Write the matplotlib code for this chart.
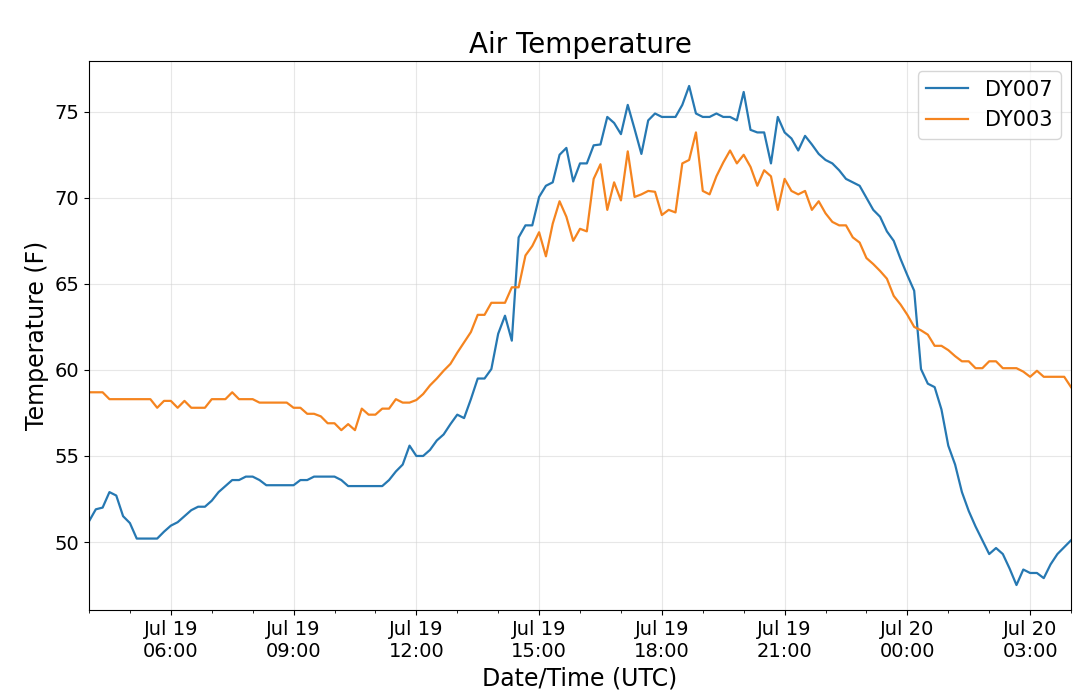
import matplotlib
matplotlib.use("Agg")
import matplotlib.pyplot as plt
import matplotlib.dates as mdates
import numpy as np
import pandas as pd

# 10-minute readings, Jul 19 04:00 UTC -> Jul 20 04:00 UTC
times = pd.date_range("2019-07-19 04:00", periods=145, freq="10min")

dy007 = [
    51.2, 51.9, 52.0, 52.9, 52.7, 51.5, 51.1, 50.2, 50.2, 50.2,
    50.2, 50.6, 50.95, 51.15, 51.5, 51.85, 52.05, 52.05, 52.4, 52.9,
    53.25, 53.6, 53.6, 53.8, 53.8, 53.6, 53.3, 53.3, 53.3, 53.3,
    53.3, 53.6, 53.6, 53.8, 53.8, 53.8, 53.8, 53.6, 53.25, 53.25,
    53.25, 53.25, 53.25, 53.25, 53.6, 54.1, 54.5, 55.6, 55.0, 55.0,
    55.35, 55.9, 56.25, 56.85, 57.4, 57.2, 58.3, 59.5, 59.5, 60.05,
    62.1, 63.15, 61.7, 67.7, 68.4, 68.4, 70.05, 70.7, 70.9, 72.5,
    72.9, 70.95, 72.0, 72.0, 73.05, 73.1, 74.7, 74.35, 73.7, 75.4,
    74.0, 72.55, 74.5, 74.9, 74.7, 74.7, 74.7, 75.4, 76.5, 74.9,
    74.7, 74.7, 74.9, 74.7, 74.7, 74.5, 76.15, 73.95, 73.8, 73.8,
    72.0, 74.7, 73.8, 73.45, 72.75, 73.6, 73.1, 72.55, 72.2, 72.0,
    71.6, 71.1, 70.9, 70.7, 70.0, 69.3, 68.9, 68.05, 67.5, 66.45,
    65.5, 64.6, 60.05, 59.2, 59.0, 57.7, 55.6, 54.5, 52.9, 51.8,
    50.9, 50.1, 49.3, 49.65, 49.3, 48.45, 47.5, 48.4, 48.2, 48.2,
    47.9, 48.7, 49.3, 49.7, 50.1,
]

dy003 = [
    58.7, 58.7, 58.7, 58.3, 58.3, 58.3, 58.3, 58.3, 58.3, 58.3,
    57.8, 58.2, 58.2, 57.8, 58.2, 57.8, 57.8, 57.8, 58.3, 58.3,
    58.3, 58.7, 58.3, 58.3, 58.3, 58.1, 58.1, 58.1, 58.1, 58.1,
    57.8, 57.8, 57.45, 57.45, 57.3, 56.9, 56.9, 56.5, 56.85, 56.5,
    57.75, 57.4, 57.4, 57.75, 57.75, 58.3, 58.1, 58.1, 58.25, 58.6,
    59.1, 59.5, 59.95, 60.35, 61.0, 61.6, 62.2, 63.2, 63.2, 63.9,
    63.9, 63.9, 64.8, 64.8, 66.65, 67.2, 68.0, 66.6, 68.5, 69.8,
    68.9, 67.5, 68.2, 68.05, 71.1, 71.95, 69.3, 70.9, 69.85, 72.7,
    70.05, 70.2, 70.4, 70.35, 69.0, 69.3, 69.15, 72.0, 72.2, 73.8,
    70.4, 70.2, 71.25, 72.05, 72.75, 72.0, 72.5, 71.8, 70.7, 71.6,
    71.25, 69.3, 71.1, 70.4, 70.2, 70.4, 69.3, 69.8, 69.1, 68.6,
    68.4, 68.4, 67.7, 67.4, 66.5, 66.15, 65.75, 65.3, 64.3, 63.8,
    63.2, 62.5, 62.3, 62.05, 61.4, 61.4, 61.15, 60.8, 60.5, 60.5,
    60.1, 60.1, 60.5, 60.5, 60.1, 60.1, 60.1, 59.9, 59.6, 59.95,
    59.6, 59.6, 59.6, 59.6, 59.0,
]

fig, ax = plt.subplots(figsize=(10.8, 6.98), dpi=100)
fig.subplots_adjust(left=0.0824, right=0.9917, top=0.9126, bottom=0.1261)

ax.plot(times, dy007, label="DY007", color="#2678b2", linewidth=1.6)
ax.plot(times, dy003, label="DY003", color="#f5841f", linewidth=1.6)

ax.set_xlim(times[0], times[-1])
ax.xaxis.set_major_locator(mdates.HourLocator(byhour=range(0, 24, 3)))
ax.xaxis.set_minor_locator(mdates.HourLocator(interval=1))
ax.xaxis.set_major_formatter(mdates.DateFormatter("%b %d\n%H:%M"))

ax.set_title("Air Temperature", fontsize=20)
ax.set_xlabel("Date/Time (UTC)", fontsize=17)
ax.set_ylabel("Temperature (F)", fontsize=17)
ax.tick_params(axis="both", which="major", labelsize=14)
ax.grid(True, which="major", color="#d0d0d0", alpha=0.5)
ax.legend(loc="upper right", fontsize=15)

plt.savefig("out.png", dpi=100)
